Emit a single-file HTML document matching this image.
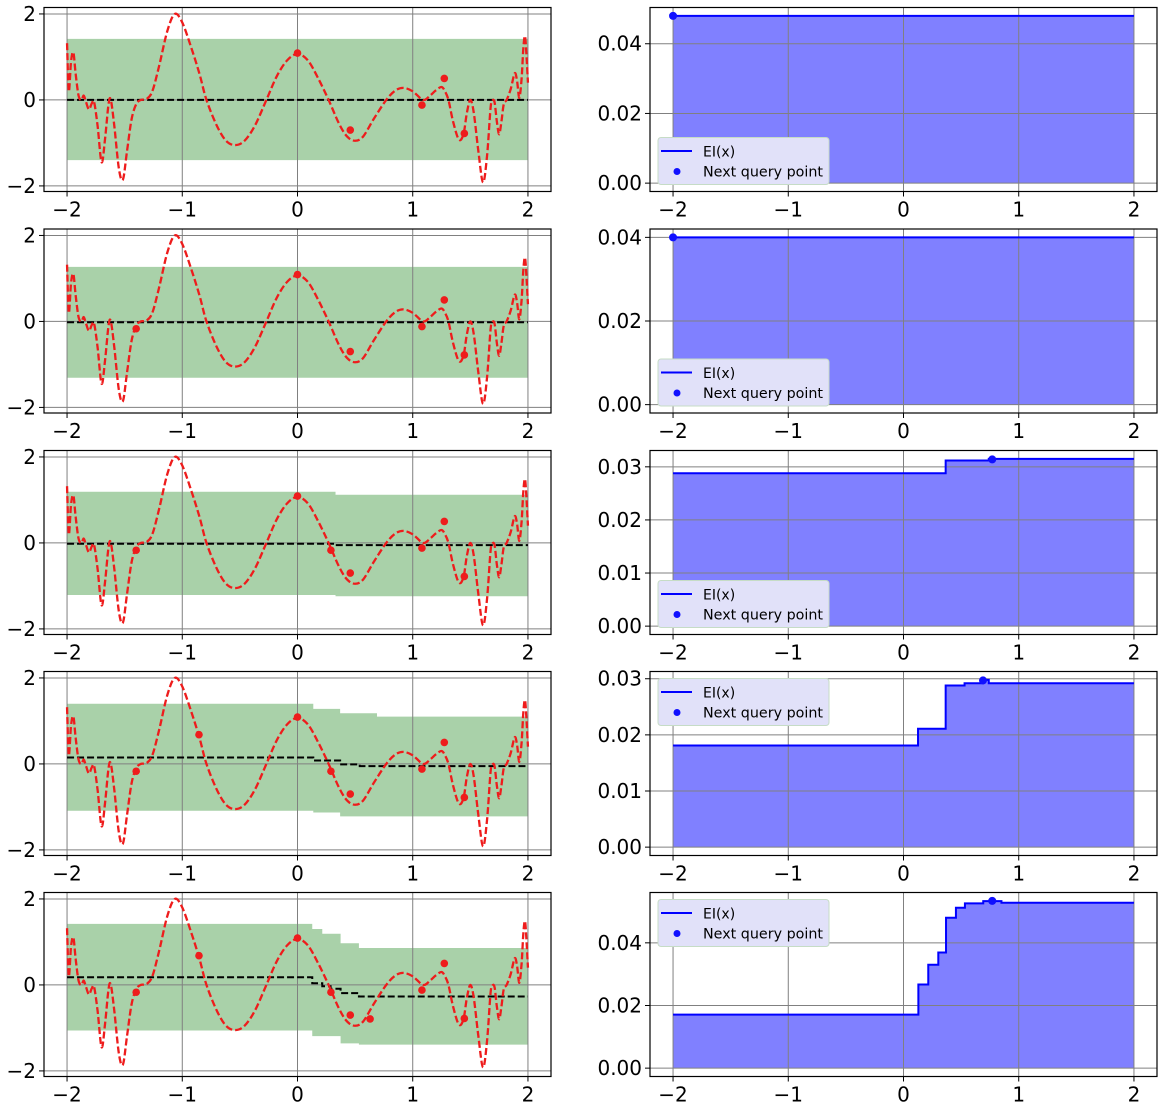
<!DOCTYPE html>
<html><head><meta charset="utf-8"><style>
html,body{margin:0;padding:0;background:#fff;}
svg{display:block;font-family:"DejaVu Sans","Liberation Sans",sans-serif;}
</style></head><body>
<svg id="fig" width="1166" height="1109" viewBox="0 0 1166 1109" xmlns="http://www.w3.org/2000/svg"></svg>
<script>
// ---- data ----
const curveX = [-2.0,-1.985,-1.965,-1.945,-1.925,-1.9,-1.875,-1.855,-1.835,-1.81,-1.785,-1.765,-1.735,-1.70,-1.67,-1.64,-1.62,-1.59,-1.55,-1.515,-1.48,-1.44,-1.40,-1.36,-1.31,-1.26,-1.2,-1.13,-1.065,-1.0,-0.92,-0.85,-0.79,-0.7,-0.62,-0.54,-0.46,-0.37,-0.27,-0.18,-0.09,0.0,0.09,0.18,0.27,0.36,0.43,0.5,0.57,0.66,0.77,0.85,0.92,1.0,1.09,1.15,1.2,1.25,1.28,1.31,1.35,1.4,1.44,1.47,1.5,1.53,1.57,1.61,1.645,1.675,1.69,1.71,1.73,1.75,1.77,1.79,1.815,1.85,1.885,1.905,1.925,1.945,1.96,1.975,1.99,2.0];
const curveY = [1.32,0.2,0.9,1.1,0.6,0.1,0.0,0.1,-0.05,-0.22,-0.08,-0.05,-0.6,-1.45,-0.9,-0.1,0.0,-0.6,-1.6,-1.85,-1.2,-0.45,-0.1,0.0,0.02,0.2,0.8,1.6,2.0,1.8,1.2,0.6,0.0,-0.6,-0.95,-1.05,-0.95,-0.6,0.0,0.55,0.92,1.07,0.92,0.5,0.0,-0.55,-0.85,-0.95,-0.85,-0.45,0.0,0.22,0.28,0.2,0.0,0.1,0.22,0.3,0.2,0.0,-0.5,-0.92,-0.8,-0.3,0.0,-0.3,-1.2,-1.92,-1.3,-0.2,-0.02,-0.05,-0.5,-0.8,-0.5,-0.1,0.0,0.25,0.62,0.45,0.05,0.5,1.2,1.48,0.9,0.4];
const obsX = [0.0,0.458,1.08,1.274,1.448,-1.40,0.29,-0.855,0.63];
const obsY = [1.09,-0.70,-0.12,0.50,-0.78,-0.17,-0.17,0.68,-0.79];
const obsCount = [5,6,7,8,9];
const bandEdges = [[-2,2],[-2,2],[-2,0.33,2],[-2,0.137,0.37,0.54,0.69,2],[-2,0.128,0.215,0.287,0.374,0.533,2]];
const bandUpper = [[1.42],[1.27],[1.19,1.12],[1.40,1.28,1.18,1.18,1.10],[1.42,1.30,1.19,1.19,0.97,0.86]];
const bandLower = [[-1.40],[-1.31],[-1.21,-1.24],[-1.09,-1.13,-1.22,-1.22,-1.22],[-1.06,-1.19,-1.19,-1.19,-1.36,-1.39]];
const bandMean = [[0.0],[-0.02],[-0.02,-0.05],[0.15,0.08,-0.01,-0.05,-0.05],[0.18,0.04,-0.03,-0.09,-0.19,-0.27]];
const eiEdges = [[-2,2],[-2,2],[-2,0.366,0.74,2],[-2,0.126,0.366,0.53,0.69,0.74,2],[-2,0.129,0.215,0.302,0.369,0.455,0.533,0.692,0.85,2]];
const eiVals = [[0.048],[0.040],[0.0288,0.0312,0.0315],[0.0181,0.0211,0.0288,0.0292,0.0298,0.0292],[0.0171,0.0267,0.033,0.0369,0.048,0.0512,0.0526,0.0533,0.0528]];
const queryX = [-2,-2,0.77,0.69,0.77];
const queryY = [0.048,0.040,0.0314,0.0297,0.0534];
const leftTicksY = [-2,0,2];
const xTicks = [-2,-1,0,1,2];
const rightTicks = [[0,0.02,0.04],[0,0.02,0.04],[0,0.01,0.02,0.03],[0,0.01,0.02,0.03],[0,0.02,0.04]];
const legendTop = [true,true,true,false,false];

// ---- drawing ----
const NS="http://www.w3.org/2000/svg";
const svg=document.getElementById('fig');
function mk(tag,attrs,parent){const e=document.createElementNS(NS,tag);for(const k in attrs)e.setAttribute(k,attrs[k]);(parent||svg).appendChild(e);return e;}
const ROW_TOP=[7.5,229,450.5,671.5,892.5], H=184, W=507;
const LEFT_X=44, RIGHT_X=650, XMIN=-2.2, XMAX=2.2;
function fmtX(v){return v<0?'\u2212'+Math.abs(v):String(v);}
function smoothPath(pts){let d='M'+pts[0][0]+','+pts[0][1];for(let i=0;i<pts.length-1;i++){const p0=pts[Math.max(0,i-1)],p1=pts[i],p2=pts[i+1],p3=pts[Math.min(pts.length-1,i+2)];const c1=[p1[0]+(p2[0]-p0[0])/6,p1[1]+(p2[1]-p0[1])/6],c2=[p2[0]-(p3[0]-p1[0])/6,p2[1]-(p3[1]-p1[1])/6];d+=' C'+c1[0].toFixed(2)+','+c1[1].toFixed(2)+' '+c2[0].toFixed(2)+','+c2[1].toFixed(2)+' '+p2[0].toFixed(2)+','+p2[1].toFixed(2);}return d;}
function stepPath(edges,vals,sx,sy){let d='';for(let i=0;i<vals.length;i++){const x0=sx(edges[i]),x1=sx(edges[i+1]),y=sy(vals[i]);d+=(i===0?'M':'L')+x0.toFixed(2)+','+y.toFixed(2)+' L'+x1.toFixed(2)+','+y.toFixed(2)+' ';}return d;}

for(let r=0;r<5;r++){
  const top=ROW_TOP[r];
  // ===== left panel =====
  {
    const g=mk('g',{});
    
    
    const YMIN=-2.13,YMAX=2.15;
    const sx=v=>LEFT_X+(v-XMIN)/(XMAX-XMIN)*W;
    const sy=v=>top+(YMAX-v)/(YMAX-YMIN)*H;
    const E=bandEdges[r],U=bandUpper[r],L=bandLower[r];
    let d='';
    for(let i=0;i<U.length;i++){d+=(i===0?'M':'L')+sx(E[i])+','+sy(U[i])+' L'+sx(E[i+1])+','+sy(U[i])+' ';}
    for(let i=L.length-1;i>=0;i--){d+='L'+sx(E[i+1])+','+sy(L[i])+' L'+sx(E[i])+','+sy(L[i])+' ';}
    const band=mk('path',{d:d+'Z',fill:'#a9d1a9',stroke:'none'},g);
    
    
    for(const t of xTicks){const l=mk('line',{x1:sx(t),x2:sx(t),y1:top,y2:top+H,stroke:'#808080','stroke-width':1},g);}
    for(const t of leftTicksY){const l=mk('line',{x1:LEFT_X,x2:LEFT_X+W,y1:sy(t),y2:sy(t),stroke:'#808080','stroke-width':1},g);}
    const mean=mk('path',{d:stepPath(E,bandMean[r],sx,sy),fill:'none',stroke:'#000','stroke-width':2,'stroke-dasharray':'7,3'},g);
    
    
    const pts=curveX.map((x,i)=>[sx(x),sy(curveY[i])]);
    const fn=mk('path',{d:smoothPath(pts),fill:'none',stroke:'#ee1c1c','stroke-width':2.3,'stroke-dasharray':'7,3'},g);
    
    
    for(let i=0;i<obsCount[r];i++){const c=mk('circle',{cx:sx(obsX[i]),cy:sy(obsY[i]),r:3.8,fill:'#ee1c1c'},g);}
    const fr=mk('rect',{x:LEFT_X,y:top,width:W,height:H,fill:'none',stroke:'#000','stroke-width':1.2},g);
    
    
    for(const t of xTicks){mk('line',{x1:sx(t),x2:sx(t),y1:top+H,y2:top+H+5,stroke:'#000','stroke-width':1},g);const tx=mk('text',{x:sx(t),y:top+H+25,'text-anchor':'middle','font-size':20,fill:'#000'},g);tx.textContent=fmtX(t);}
    for(const t of leftTicksY){mk('line',{x1:LEFT_X-5,x2:LEFT_X,y1:sy(t),y2:sy(t),stroke:'#000','stroke-width':1},g);const tx=mk('text',{x:LEFT_X-8,y:sy(t)+7,'text-anchor':'end','font-size':20,fill:'#000'},g);tx.textContent=fmtX(t);}
  }
  // ===== right panel =====
  {
    const g=mk('g',{});
    
    
    const dmax=Math.max(...eiVals[r],queryY[r]);
    const YMIN=-0.05*dmax,YMAX=1.05*dmax;
    const sx=v=>RIGHT_X+(v-XMIN)/(XMAX-XMIN)*W;
    const sy=v=>top+(YMAX-v)/(YMAX-YMIN)*H;
    const E=eiEdges[r],V=eiVals[r];
    const line=stepPath(E,V,sx,sy);
    const fill=mk('path',{d:line+'L'+sx(2)+','+sy(0)+' L'+sx(-2)+','+sy(0)+' Z',fill:'#8080ff',stroke:'none'},g);
    
    
    for(const t of xTicks){const l=mk('line',{x1:sx(t),x2:sx(t),y1:top,y2:top+H,stroke:'#808080','stroke-width':1},g);}
    for(const t of rightTicks[r]){const l=mk('line',{x1:RIGHT_X,x2:RIGHT_X+W,y1:sy(t),y2:sy(t),stroke:'#808080','stroke-width':1},g);}
    const ln=mk('path',{d:line,fill:'none',stroke:'#0000ff','stroke-width':2},g);
    
    
    const q=mk('circle',{cx:sx(queryX[r]),cy:sy(queryY[r]),r:4,fill:'#1010ff'},g);
    
    
    const fr=mk('rect',{x:RIGHT_X,y:top,width:W,height:H,fill:'none',stroke:'#000','stroke-width':1.2},g);
    
    
    for(const t of xTicks){mk('line',{x1:sx(t),x2:sx(t),y1:top+H,y2:top+H+5,stroke:'#000','stroke-width':1},g);const tx=mk('text',{x:sx(t),y:top+H+25,'text-anchor':'middle','font-size':20,fill:'#000'},g);tx.textContent=fmtX(t);}
    for(const t of rightTicks[r]){mk('line',{x1:RIGHT_X-5,x2:RIGHT_X,y1:sy(t),y2:sy(t),stroke:'#000','stroke-width':1},g);const tx=mk('text',{x:RIGHT_X-8,y:sy(t)+7,'text-anchor':'end','font-size':20,fill:'#000'},g);tx.textContent=t.toFixed(2);}
    const ly=legendTop[r]?top+130:top+7;
    const lg=mk('g',{},g);
    
    
    mk('rect',{x:658,y:ly,width:171,height:47,rx:3,fill:'#e1e1f9',stroke:'#c6dcc6','stroke-width':1},lg);
    mk('line',{x1:661,x2:692,y1:ly+13.5,y2:ly+13.5,stroke:'#0000ff','stroke-width':2},lg);
    const t1=mk('text',{x:703,y:ly+19,'font-size':14,fill:'#000'},lg);t1.textContent='EI(x)';
    
    
    mk('circle',{cx:677,cy:ly+34,r:3.5,fill:'#1010ff'},lg);
    const t2=mk('text',{x:703,y:ly+39,'font-size':14,fill:'#000',textLength:120,lengthAdjust:'spacingAndGlyphs'},lg);t2.textContent='Next query point';
    
    
  }
}
</script>
</body></html>
